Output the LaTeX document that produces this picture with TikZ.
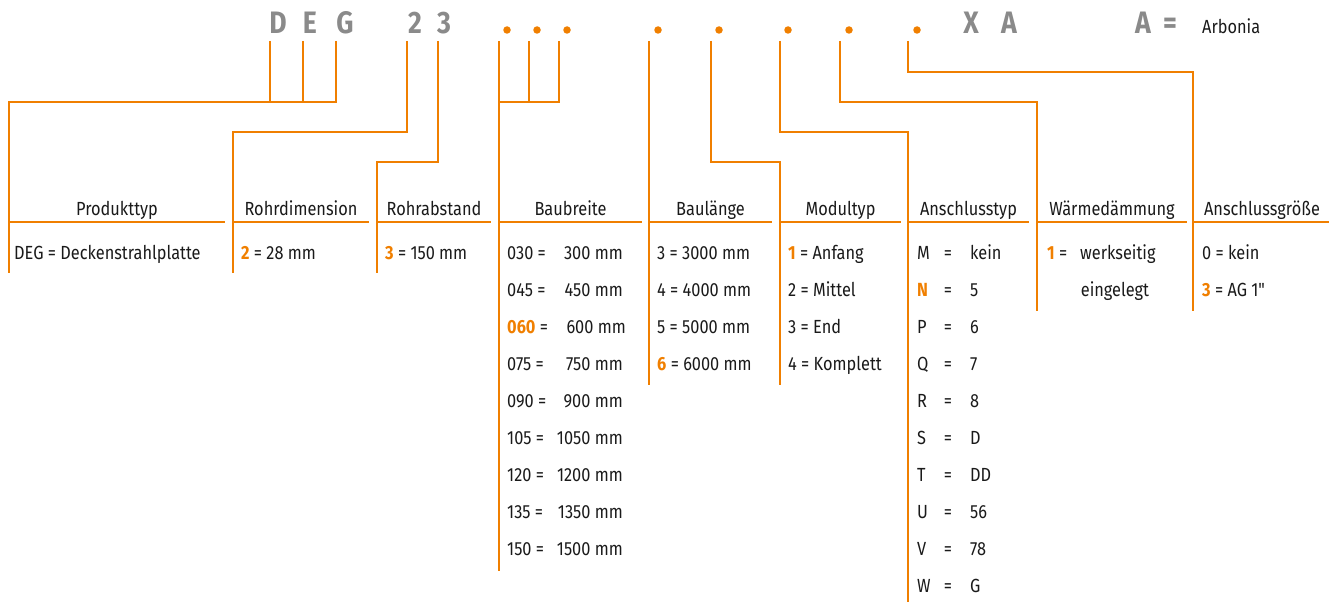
\documentclass[tikz,border=0pt]{standalone}
\usepackage{fontspec}
\setmainfont[FakeStretch=0.86]{Fira Sans}
\newfontfamily\nomapfont[FakeStretch=0.86]{Fira Sans}
\definecolor{aorange}{HTML}{F07F00}
\definecolor{agray}{HTML}{8A8A8A}
\definecolor{atext}{HTML}{1A1A1A}
\newcommand{\ob}[1]{\textcolor{aorange}{\textbf{#1}}}
\tikzset{
  conn/.style={draw=aorange, line width=2.2pt, line join=miter},
  codech/.style={inner sep=0pt, anchor=base, text=agray, font=\fontsize{31}{33}\selectfont\bfseries},
  codedot/.style={circle, fill=aorange, inner sep=0pt, minimum size=7.5pt},
  head/.style={inner sep=0pt, anchor=base, text=atext, font=\fontsize{19}{22}\selectfont},
  body/.style={inner sep=0pt, anchor=base west, text=atext, font=\fontsize{19}{22}\selectfont},
  bodyr/.style={inner sep=0pt, anchor=base east, text=atext, font=\fontsize{19}{22}\selectfont},
  bodyc/.style={inner sep=0pt, anchor=base, text=atext, font=\fontsize{19}{22}\selectfont},
}
\begin{document}
\begin{tikzpicture}[x=1pt,y=-1pt]
\useasboundingbox (0,0) rectangle (1329,602);
% code row
\node[codech] (cD) at (278,34) {D};
\node[codech] (cE) at (310,34) {E};
\node[codech] (cG) at (345,34) {G};
\node[codech] (c2) at (415,34) {2};
\node[codech] (c3) at (444,34) {3};
\node[codedot] (d1) at (507,30) {};
\node[codedot] (d2) at (537,30) {};
\node[codedot] (d3) at (567,30) {};
\node[codedot] (d4) at (658,30) {};
\node[codedot] (d5) at (719,30) {};
\node[codedot] (d6) at (788,30) {};
\node[codedot] (d7) at (849,30) {};
\node[codedot] (d8) at (917,30) {};
\node[codech] (cX) at (971,34) {X};
\node[codech] (cA) at (1009,34) {A};
\node[codech] (kA) at (1143,34) {A};
\node[codech] (kEq) at (1170,34) {=};
\node[body] (arb) at (1202,33.5) {Arbonia};
% connector tops
\foreach \n/\x in {tD/270,tE/303,tG/336,t2/407,t3/438,t4a/499,t4b/529,t4c/559,t5/649,t6/711,t7/780,t8/840,t9/908}
  \coordinate (\n) at (\x,41);
% column corners and bottoms
\coordinate (k1) at (9,102);    \coordinate (b1) at (9,273);
\coordinate (k2) at (233,132);  \coordinate (b2) at (233,273);
\coordinate (k3) at (377,162);  \coordinate (b3) at (377,273);
\coordinate (k4) at (499,102);  \coordinate (b4) at (499,571);
\coordinate (b5) at (649,385);
\coordinate (k6) at (780,162);  \coordinate (b6) at (780,385);
\coordinate (k7) at (908,132);  \coordinate (b7) at (908,602);
\coordinate (k8) at (1037,102); \coordinate (b8) at (1037,311);
\coordinate (k9) at (1193,72);  \coordinate (b9) at (1193,311);
% connectors
\draw[conn] (tD) -- (tD |- k1);
\draw[conn] (tE) -- (tE |- k1);
\draw[conn] (tG) |- (k1) -- (b1);
\draw[conn] (t2) |- (k2) -- (b2);
\draw[conn] (t3) |- (k3) -- (b3);
\draw[conn] (t4b) -- (t4b |- k4);
\draw[conn] (t4c) |- (k4);
\draw[conn] (t4a) -- (b4);
\draw[conn] (t5) -- (b5);
\draw[conn] (t6) |- (k6) -- (b6);
\draw[conn] (t7) |- (k7) -- (b7);
\draw[conn] (t8) |- (k8) -- (b8);
\draw[conn] (t9) |- (k9) -- (b9);
% header lines
\foreach \a/\b in {9/225,233/369,377/491,499/642,649/772,780/901,908/1029,1037/1187,1193/1329}
  \draw[conn] (\a,222) -- (\b,222);
% headers
\node[head] (h1) at (117,215) {Produkttyp};
\node[head] (h2) at (301,215) {Rohrdimension};
\node[head] (h3) at (434,215) {Rohrabstand};
\node[head] (h4) at (570.5,215) {Baubreite};
\node[head] (h5) at (710.5,215) {Baulänge};
\node[head] (h6) at (840.5,215) {Modultyp};
\node[head] (h7) at (968.5,215) {Anschlusstyp};
\node[head] (h8) at (1112,215) {Wärmedämmung};
\node[head] (h9) at (1262,215) {Anschlussgröße};
% column 1-3
\node[body] (p1) at (14,259) {DEG = Deckenstrahlplatte};
\node[body] (r1) at (241,259) {\ob{2} = 28 mm};
\node[body] (a1) at (385,259) {\ob{3} = 150 mm};
% Baubreite
\foreach \i/\l/\r in {0/030/300,1/045/450,3/075/750,4/090/900,5/105/1050,6/120/1200,7/135/1350,8/150/1500}{
  \node[body] (bl\i) at (507,259+37*\i) {\l\ =};
  \node[bodyr] (br\i) at (623,259+37*\i) {\r\ mm};
}
\node[body] (bl2) at (507,333) {\ob{060} =};
\node[bodyr] (br2) at (626,333) {600 mm};
% Baulaenge
\node[body] (l1) at (657,259) {3 = 3000 mm};
\node[body] (l2) at (657,296) {4 = 4000 mm};
\node[body] (l3) at (657,333) {5 = 5000 mm};
\node[body] (l4) at (657,370) {\ob{6} = 6000 mm};
% Modultyp
\node[body] (m1) at (788,259) {\ob{1} = Anfang};
\node[body] (m2) at (788,296) {2 = Mittel};
\node[body] (m3) at (788,333) {3 = End};
\node[body] (m4) at (788,370) {4 = Komplett};
% Anschlusstyp
\foreach \i/\k/\v in {0/M/kein,2/P/6,3/Q/7,4/R/8,5/S/D,6/T/DD,7/U/56,8/V/78,9/W/G}{
  \node[body] (ak\i) at (917,259+37*\i) {\k};
  \node[bodyc] (ae\i) at (948,259+37*\i) {=};
  \node[body] (av\i) at (970,259+37*\i) {\v};
}
\node[body] (ak1) at (917,296) {\ob{N}};
\node[bodyc] (ae1) at (948,296) {=};
\node[body] (av1) at (970,296) {5};
% Waermedaemmung
\node[body] (w1) at (1047,259) {\ob{1} =};
\node[body] (w1b) at (1080,259) {werkseitig};
\node[bodyc] (w2) at (1115,296) {eingelegt};
% Anschlussgroesse
\node[body] (g1) at (1202,259) {0 = kein};
\node[body] (g2) at (1202,296) {\ob{3} = AG 1{\nomapfont"}};
\end{tikzpicture}
\end{document}
